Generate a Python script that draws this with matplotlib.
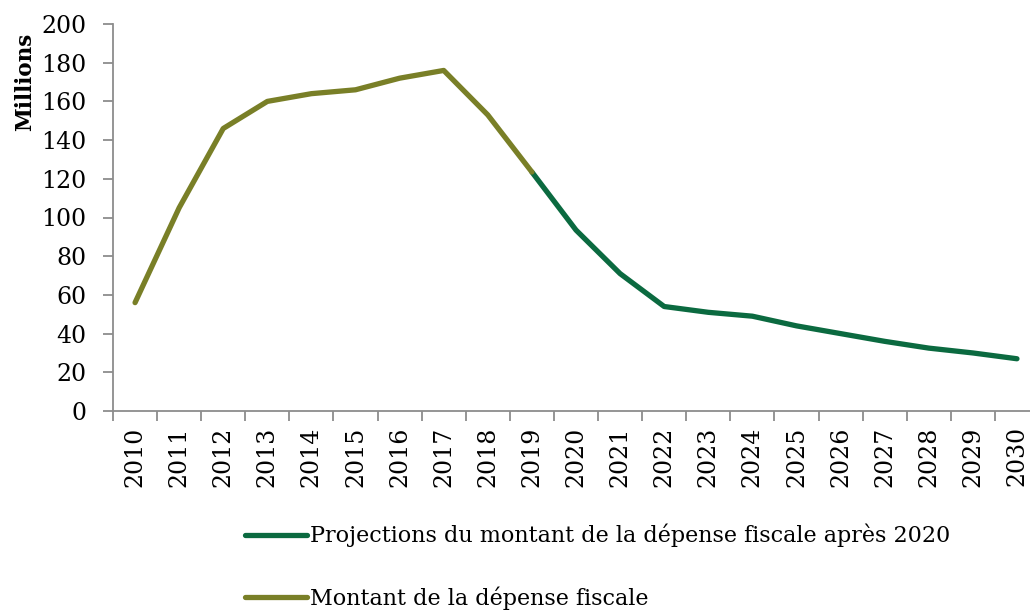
import matplotlib.pyplot as plt
import numpy as np

plt.rcParams['font.family'] = ['DejaVu Serif']

years = [str(y) for y in range(2010, 2031)]
montant = [56, 105, 146, 160, 164, 166, 172, 176, 153, 123.5]
projections = [123.5, 93.5, 71, 54, 51, 49, 44, 40, 36, 32.5, 30, 27]

olive = '#797f27'
dgreen = '#0b6a40'
grey = '#8c8c8c'

fig = plt.figure(figsize=(10.3, 6.11), dpi=100)
W, H = 1030, 611
ax = fig.add_axes([113 / W, 1 - 411 / H, (1039 - 113) / W, (411 - 24) / H])

x = np.arange(len(years))
l2, = ax.plot(x[9:], projections, color=dgreen, lw=3.8, solid_capstyle='round',
              label='Projections du montant de la dépense fiscale après 2020')
l1, = ax.plot(x[:10], montant, color=olive, lw=3.8, solid_capstyle='round',
              label='Montant de la dépense fiscale')

ax.set_ylim(0, 200)
ax.set_yticks(range(0, 201, 20))
ax.set_xlim(-0.5, len(years) - 0.5)
ax.set_xticks(np.arange(-0.5, len(years), 1))
ax.set_xticklabels([])
ax.set_xticks(x, minor=True)
ax.set_xticklabels(years, minor=True, rotation=90)
ax.tick_params(axis='x', which='minor', length=0, pad=11, labelsize=17)
ax.tick_params(axis='x', which='major', length=7, color=grey, width=1.3)
ax.tick_params(axis='y', length=7, color=grey, width=1.3, labelsize=17, pad=12)

for s in ['top', 'right']:
    ax.spines[s].set_visible(False)
for s in ['left', 'bottom']:
    ax.spines[s].set_color(grey)
    ax.spines[s].set_linewidth(1.3)

fig.text(25 / W, 1 - 82 / H, 'Millions', rotation=90, fontsize=15.5, fontweight='bold',
         ha='center', va='center')

fig.legend(handles=[l2, l1], loc='upper left', bbox_to_anchor=(236 / W, 1 - 515 / H),
           frameon=False, fontsize=16, handlelength=2.8, handletextpad=0.15,
           labelspacing=1.75, borderaxespad=0)

fig.savefig('out.png', dpi=100)
